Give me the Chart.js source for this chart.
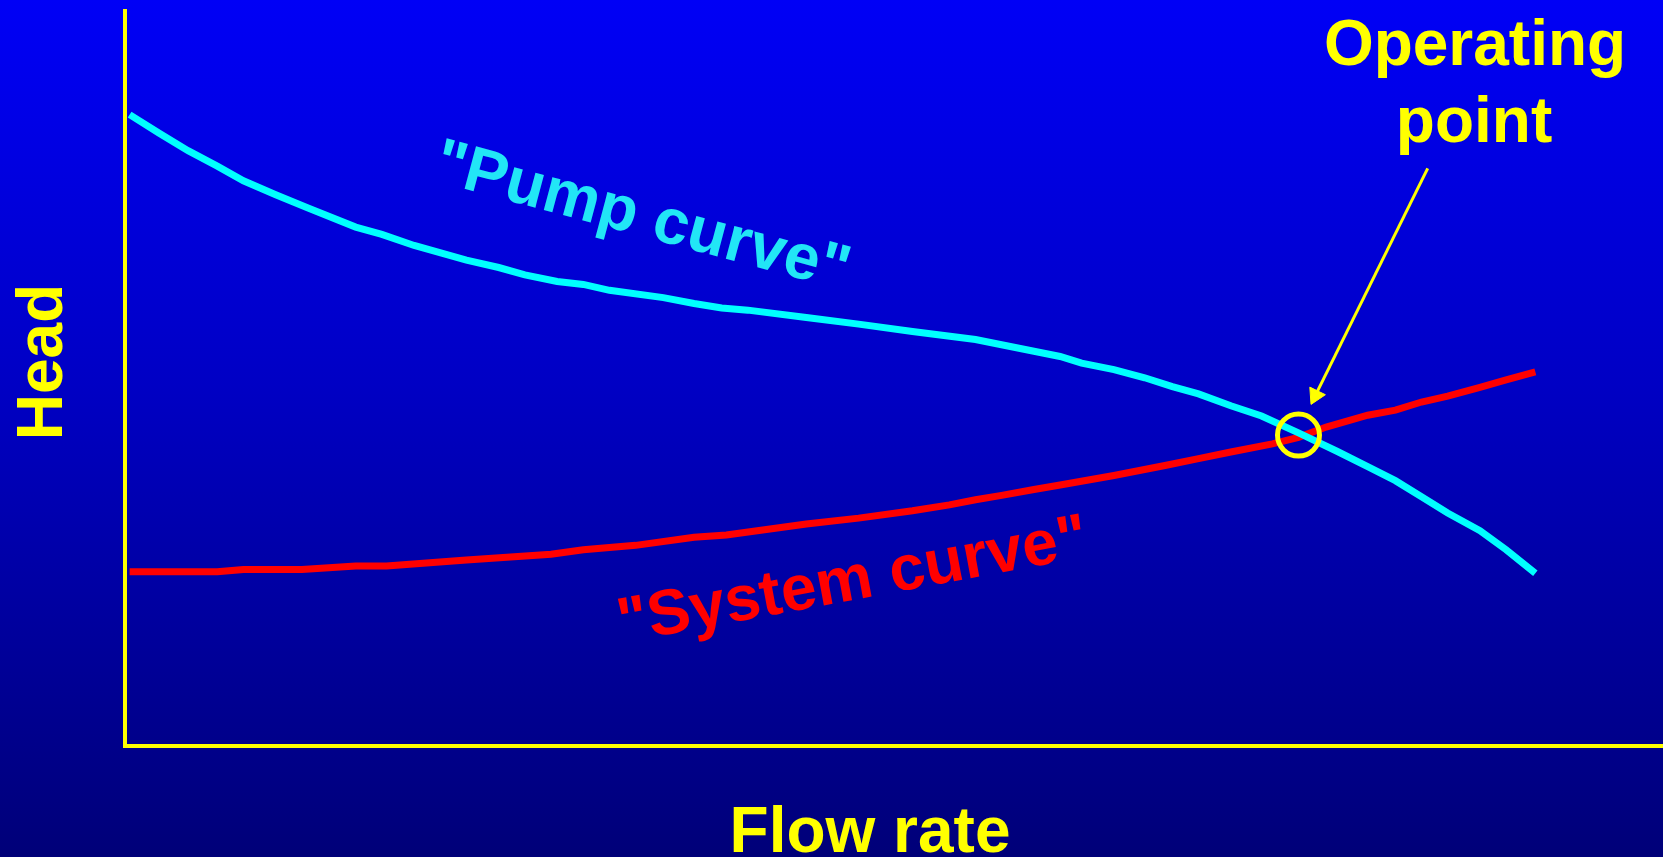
<!DOCTYPE html>
<html>
<head>
<meta charset="utf-8">
<title>Pump curve / System curve</title>
<script src="https://cdn.jsdelivr.net/npm/chart.js@4/dist/chart.umd.min.js"></script>
<style>
html,body{margin:0;padding:0;overflow:hidden}
body{width:1663px;height:857px;background:linear-gradient(to bottom,#0000f6 0%,#0000c4 45%,#000078 100%)}
canvas{display:block}
</style>
</head>
<body>
<canvas id="grafica" width="1663" height="857"></canvas>
<script>

// values, flow and head both on a 0-100 scale
const pumpFlow = [0.3,2.2,4.1,6.0,7.7,9.8,11.9,15.0,16.7,18.8,22.2,24.3,26.0,28.1,29.8,31.5,35.0,37.0,38.8,40.5,44.3,47.7,51.2,55.3,59.1,60.8,62.2,64.3,66.3,68.1,69.8,71.9,73.9,76.3,78.8,80.8,82.6,84.3,86.0,88.1,89.8,91.7]
const pumpHead = [85.9,83.4,81.0,78.9,76.9,75.0,73.2,70.6,69.6,68.1,66.1,65.1,64.1,63.2,62.8,62.0,61.0,60.2,59.6,59.3,58.3,57.4,56.4,55.3,53.7,53.0,52.1,51.2,50.1,48.9,47.9,46.3,44.9,42.6,40.1,38.0,36.1,33.9,31.7,29.3,26.7,23.5]

const systemFlow = [0.3,6.0,7.7,11.5,15.0,17.0,22.2,27.7,29.8,33.2,37.0,39.1,44.3,47.7,51.2,53.6,55.3,57.0,59.1,60.8,64.3,67.7,69.8,71.9,74.6,76.3,78.1,80.8,82.6,84.3,86.0,88.1,89.8,91.7]
const systemHead = [23.7,23.7,24.0,24.0,24.5,24.5,25.3,26.1,26.7,27.3,28.4,28.7,30.2,31.0,32.0,32.8,33.5,34.1,34.9,35.5,36.8,38.2,39.1,40.0,41.1,42.0,43.4,45.0,45.7,46.8,47.6,48.8,49.8,50.9]

const opFlow = [76.3]
const opHead = [42.3]

// arrow from the label down to the operating point
const arrowFlow = [84.7,77.4]
const arrowHead = [78.6,47.7]

const textos = {
head:"Head",
flow:"Flow rate",
op1:"Operating",
op2:"point",
pump:"\"Pump curve\"",
system:"\"System curve\""
}

function puntos(xs,ys){
return xs.map((x,i)=>({x:x,y:ys[i]}))
}

const AMARILLO = "#ffff00"
const FUENTE = "'Liberation Sans', Arial, sans-serif"

const etiquetas = {
id:"etiquetas",
afterDatasetsDraw(chart){
const ctx = chart.ctx
ctx.save()
ctx.font = "bold 64px " + FUENTE
ctx.textAlign = "center"
ctx.textBaseline = "alphabetic"

ctx.fillStyle = AMARILLO
ctx.fillText(textos.flow,870,852)
ctx.fillText(textos.op1,1475,65)
ctx.fillText(textos.op2,1474,142)

ctx.save()
ctx.translate(62,362)
ctx.rotate(-Math.PI/2)
ctx.fillText(textos.head,0,0)
ctx.restore()

ctx.textBaseline = "middle"

ctx.save()
ctx.translate(642,218)
ctx.rotate(15*Math.PI/180)
ctx.fillStyle = "#22e6f6"
ctx.fillText(textos.pump,0,0)
ctx.restore()

ctx.save()
ctx.translate(853,582)
ctx.rotate(-10.5*Math.PI/180)
ctx.fillStyle = "#ff0000"
ctx.fillText(textos.system,0,0)
ctx.restore()

ctx.restore()
}
}

new Chart(document.getElementById("grafica"),{

type:"line",

data:{
datasets:[
{
label:"Pump curve",
data:puntos(pumpFlow,pumpHead),
borderColor:"#00ffff",
borderWidth:7,
pointRadius:0,
tension:0,
order:1
},
{
label:"System curve",
data:puntos(systemFlow,systemHead),
borderColor:"#ff0000",
borderWidth:7,
pointRadius:0,
tension:0,
order:2
},
{
label:"Operating point",
data:puntos(opFlow,opHead),
showLine:false,
pointStyle:"circle",
pointRadius:21,
pointBorderWidth:5,
pointBorderColor:AMARILLO,
pointBackgroundColor:"rgba(0,0,0,0)",
order:0
},
{
label:"arrow",
data:puntos(arrowFlow,arrowHead),
borderColor:AMARILLO,
borderWidth:3,
tension:0,
pointStyle:"triangle",
pointRadius:[0,10],
pointRotation:206,
pointBorderWidth:1,
pointBorderColor:AMARILLO,
pointBackgroundColor:AMARILLO,
order:0
}
]
},

options:{
responsive:false,
animation:false,
layout:{autoPadding:false,padding:{left:125,top:11,right:0,bottom:111}},
plugins:{
legend:{display:false},
tooltip:{enabled:false}
},
scales:{
x:{
type:"linear",
min:0,
max:100,
grid:{display:false,drawTicks:false},
ticks:{display:false},
border:{display:true,color:AMARILLO,width:4}
},
y:{
type:"linear",
min:0,
max:100,
grid:{display:false,drawTicks:false},
ticks:{display:false},
border:{display:true,color:AMARILLO,width:4}
}
}
},

plugins:[etiquetas]

})

</script>
</body>
</html>
